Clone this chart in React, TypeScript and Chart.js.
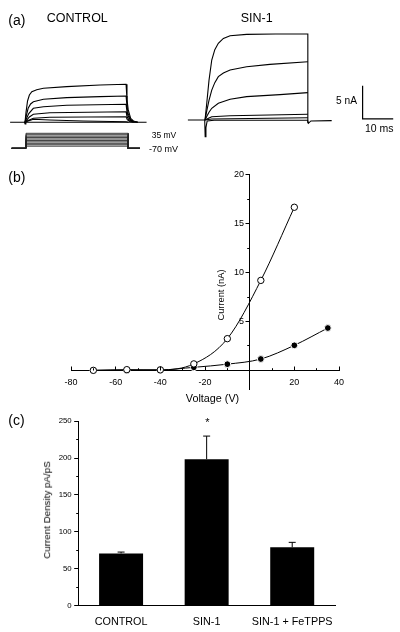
import React, { useEffect, useRef } from "react";
import { Chart, registerables } from "chart.js";

Chart.register(...registerables);

const FONT = "'Liberation Sans', Arial, Helvetica, sans-serif";
Chart.defaults.font.family = FONT;
Chart.defaults.color = "#000";

type Pt = [number, number];

// ---------------- (a) current traces: [time (ms), current (nA)] ----------------
const controlBaseline: Pt[] = [[3.3, 0], [8.0, 0], [8.2, -0.25], [8.45, 0], [47.9, 0]];
const controlTrace1: Pt[] = [[8.17, 0], [8.5, 1.5], [9.0, 3.2], [9.6, 4.1], [10.4, 4.6], [12, 4.9], [14.2, 5.1], [21.8, 5.35], [32.7, 5.6], [41.2, 5.71], [41.5, 3.4], [41.9, 1.9], [42.7, 0.6], [43.6, 0.2], [45, 0]];
const controlTrace2: Pt[] = [[8.17, 0], [8.6, 1.0], [9.2, 2.1], [10, 2.75], [10.9, 3.09], [14.2, 3.45], [21.8, 3.7], [32.7, 3.85], [41.2, 3.95], [41.5, 2.4], [41.9, 1.3], [42.7, 0.4], [43.6, 0.12], [45, 0]];
const controlTrace3: Pt[] = [[8.17, 0], [8.7, 0.6], [9.4, 1.3], [10.9, 2.1], [14.2, 2.34], [21.8, 2.55], [41.2, 2.7], [41.5, 1.6], [41.9, 0.9], [42.7, 0.3], [43.6, 0.08], [45, 0]];
const controlTrace4: Pt[] = [[8.17, 0], [8.8, 0.35], [9.6, 0.8], [10.9, 1.2], [16.3, 1.44], [41.2, 1.59], [41.5, 0.9], [42, 0.45], [42.8, 0.15], [44, 0]];
const controlTrace5: Pt[] = [[8.17, 0], [9, 0.25], [10.9, 0.6], [16.3, 0.75], [41.2, 0.84], [41.6, 0.4], [42.4, 0.12], [43.6, 0]];
const controlTrace6: Pt[] = [[8.17, 0], [9.2, 0.2], [10.9, 0.45], [16.3, 0.35], [27.2, 0.2], [41.2, 0.09], [42, 0]];

const sinBaseline: Pt[] = [[61.4, 0.35], [66.9, 0.35], [67.05, -2.16], [67.3, -0.8], [67.7, 0.2], [70, 0.3], [100.5, 0.3], [100.8, -0.15], [101.6, 0.2], [108.4, 0.25]];
const sinTrace1: Pt[] = [[67.0, 0.35], [67.6, 3.0], [68.3, 6.3], [69.2, 9.35], [70.2, 10.9], [71.35, 11.86], [73.0, 12.6], [75.2, 13.0], [80.6, 13.2], [90, 13.25], [100.6, 13.26], [100.6, -0.15]];
const sinTrace2: Pt[] = [[67.0, 0.35], [67.6, 1.8], [68.3, 3.3], [69.2, 4.83], [70.2, 5.95], [71.35, 6.85], [73, 7.4], [75.2, 7.85], [80.6, 8.35], [88.2, 8.7], [100.6, 9.1]];
const sinTrace3: Pt[] = [[67.0, 0.35], [67.6, 0.9], [68.3, 1.5], [69.2, 2.1], [71.35, 2.85], [75.2, 3.45], [80.6, 3.85], [91.5, 4.15], [100.6, 4.45]];
const sinTrace4: Pt[] = [[67.0, 0.35], [68.3, 0.65], [69.2, 0.84], [75.2, 0.99], [100.6, 1.2]];
const sinTrace5: Pt[] = [[67.0, 0.35], [69.2, 0.5], [100.6, 0.69]];

// voltage protocol (mV / ms)
const holdingPotential = -70;
const stepPotentials = [-55, -45, -35, -25, -15, -5, 5, 15, 25, 35];
const protocolStart = 3.8;
const stepOn = 8.5;
const stepOff = 41.9;
const protocolEnd = 45.75;

// scale bar
const scaleBarTime = 10; // ms
const scaleBarCurrent = 5; // nA
const scaleBarOrigin: Pt = [118.5, 0.5];

// ---------------- (b) I-V relation ----------------
const ivVoltage = [-70, -55, -40, -25, -10, 5, 20, 35];
const ivSin1 = [0.0, 0.07, 0.05, 0.66, 3.24, 9.2, 16.68];
const ivControl = [0.0, 0.02, 0.04, 0.31, 0.63, 1.16, 2.56, 4.33];
const ivXTicks = [-80, -60, -40, -20, 20, 40];
const ivYTicks = [5, 10, 15, 20];

// ---------------- (c) current density ----------------
const groups = ["CONTROL", "SIN-1", "SIN-1 + FeTPPS"];
const densityMean = [70.7, 198.6, 79.0];
const densitySem = [1.8, 31.3, 6.7];
const densityTicks = [0, 50, 100, 150, 200, 250];

// ------------------------------------------------------------------
const align = (p: number) => Math.round(p - 0.5) + 0.5;

type TickSpec = { id: string; major: number; minor: number; isMajor: (v: number) => boolean };

function tickMarks(specs: TickSpec[]) {
  return {
    id: "tickMarks",
    afterDraw(chart: any) {
      const ctx = chart.ctx;
      ctx.save();
      ctx.strokeStyle = "#000";
      ctx.lineWidth = 1;
      for (const s of specs) {
        const sc = chart.scales[s.id];
        for (const t of sc.ticks) {
          const len = s.isMajor(t.value) ? s.major : s.minor;
          const p = align(sc.getPixelForValue(t.value));
          ctx.beginPath();
          if (sc.isHorizontal()) {
            const b = align(sc.top);
            ctx.moveTo(p, b);
            ctx.lineTo(p, b - len);
          } else {
            const b = align(sc.right);
            ctx.moveTo(b, p);
            ctx.lineTo(b - len, p);
          }
          ctx.stroke();
        }
      }
      ctx.restore();
    },
  };
}

// put the axes of panel (b) through the origin (label boxes kept wide enough for the labels)
const crossAxes = {
  id: "crossAxes",
  afterLayout(chart: any) {
    const xs = chart.scales.x;
    const ys = chart.scales.y;
    const px = xs.getPixelForValue(0);
    const py = ys.getPixelForValue(0);
    ys.left = px - 60;
    ys.right = px;
    xs.top = py;
    xs.bottom = py + 30;
  },
};

const traceLine = (pts: Pt[], width = 1.1, color = "#000", yAxisID = "y") => ({
  data: pts.map(([x, y]) => ({ x, y })),
  showLine: true,
  borderColor: color,
  borderWidth: width,
  pointRadius: 0,
  tension: 0,
  fill: false,
  yAxisID,
});

function makeTraces(): any {
  const traces = [
    controlBaseline, controlTrace1, controlTrace2, controlTrace3, controlTrace4, controlTrace5, controlTrace6,
    sinBaseline, sinTrace1, sinTrace2, sinTrace3, sinTrace4, sinTrace5,
  ].map((t) => traceLine(t));
  const protocol = stepPotentials.map((v) =>
    traceLine(
      [
        [protocolStart, holdingPotential],
        [stepOn, holdingPotential],
        [stepOn, v],
        [stepOff, v],
        [stepOff, holdingPotential],
        [protocolEnd, holdingPotential],
      ],
      0.9,
      "#222",
      "yV"
    )
  );
  const bar = traceLine(
    [
      [scaleBarOrigin[0], scaleBarOrigin[1] + scaleBarCurrent],
      [scaleBarOrigin[0], scaleBarOrigin[1]],
      [scaleBarOrigin[0] + scaleBarTime, scaleBarOrigin[1]],
    ],
    1.2
  );
  return {
    type: "scatter",
    data: { datasets: [...traces, ...protocol, bar] },
    options: {
      animation: false,
      responsive: false,
      events: [],
      layout: { padding: 0 },
      plugins: { legend: { display: false }, tooltip: { enabled: false } },
      scales: {
        x: { type: "linear", min: 0, max: 130.72, display: false },
        y: { type: "linear", min: -5.66, max: 18.36, display: false },
        yV: { type: "linear", min: -151.9, max: 968.1, display: false },
      },
    },
  };
}

function makeIV(): any {
  const sinPts = ivSin1.map((c, i) => ({ x: ivVoltage[i], y: c }));
  const ctrlPts = ivControl.map((c, i) => ({ x: ivVoltage[i], y: c }));
  const axisCommon = {
    grid: { drawOnChartArea: false, drawTicks: false },
    border: { color: "#000", width: 1 },
  };
  return {
    type: "scatter",
    data: {
      datasets: [
        {
          data: sinPts,
          showLine: true,
          borderColor: "#000",
          borderWidth: 1,
          pointRadius: 3.2,
          pointBorderWidth: 1,
          pointBackgroundColor: "#fff",
          pointBorderColor: "#000",
          cubicInterpolationMode: "monotone",
          order: 0,
        },
        {
          data: ctrlPts,
          showLine: true,
          borderColor: "#000",
          borderWidth: 1,
          pointRadius: 3.4,
          pointBorderWidth: 1,
          pointBackgroundColor: "#000",
          pointBorderColor: "#fff",
          cubicInterpolationMode: "monotone",
          order: 1,
        },
      ],
    },
    options: {
      animation: false,
      responsive: false,
      events: [],
      layout: { padding: { left: 71, right: 61, top: 14.8, bottom: 20.1 } },
      plugins: { legend: { display: false }, tooltip: { enabled: false } },
      scales: {
        x: {
          type: "linear",
          position: "bottom",
          min: -80,
          max: 40,
          afterFit: (s: any) => { s.height = 0; },
          ...axisCommon,
          ticks: {
            stepSize: 10,
            autoSkip: false,
            maxRotation: 0,
            padding: 6.3,
            color: "#000",
            font: { size: 9, family: FONT },
            callback: (v: any) => (ivXTicks.includes(Number(v)) ? String(v) : ""),
          },
        },
        y: {
          type: "linear",
          position: "left",
          min: -2,
          max: 20,
          afterFit: (s: any) => { s.width = 0; },
          ...axisCommon,
          ticks: {
            stepSize: 2.5,
            includeBounds: false,
            autoSkip: false,
            padding: 5.7,
            color: "#000",
            font: { size: 9, family: FONT },
            callback: (v: any) => (ivYTicks.includes(Number(v)) ? String(v) : ""),
          },
        },
      },
    },
    plugins: [
      crossAxes,
      tickMarks([
        { id: "x", major: 4, minor: 2.3, isMajor: (v) => v === 0 || ivXTicks.includes(v) },
        { id: "y", major: 4, minor: 2.3, isMajor: (v) => v === 0 || ivYTicks.includes(v) },
      ]),
    ],
  };
}

function makeBars(): any {
  const errPts: any[] = [];
  const errRadius: number[] = [];
  groups.forEach((g, i) => {
    errPts.push({ x: g, y: densityMean[i] }, { x: g, y: densityMean[i] + densitySem[i] }, { x: g, y: null });
    errRadius.push(0, 3.5, 0);
  });
  return {
    type: "bar",
    data: {
      labels: groups,
      datasets: [
        {
          type: "line",
          data: errPts,
          borderColor: "#000",
          borderWidth: 1,
          pointStyle: "line",
          pointRadius: errRadius,
          pointBorderColor: "#000",
          pointBorderWidth: 1,
          spanGaps: false,
          fill: false,
          tension: 0,
          order: 0,
        },
        {
          type: "bar",
          data: densityMean,
          backgroundColor: "#000",
          borderWidth: 0,
          barPercentage: 0.514,
          categoryPercentage: 1,
          order: 1,
        },
      ],
    },
    options: {
      animation: false,
      responsive: false,
      events: [],
      layout: { padding: { left: 0, right: 65, top: 8.3, bottom: 0 } },
      plugins: { legend: { display: false }, tooltip: { enabled: false } },
      scales: {
        x: {
          type: "category",
          position: "bottom",
          afterFit: (s: any) => { s.height = 26.5; },
          grid: { drawOnChartArea: false, drawTicks: false },
          border: { color: "#000", width: 1 },
          ticks: { padding: 9.9, maxRotation: 0, autoSkip: false, color: "#000", font: { size: 10.8, family: FONT } },
        },
        y: {
          type: "linear",
          position: "left",
          min: 0,
          max: 250,
          afterFit: (s: any) => { s.width = 78.3; },
          grid: { drawOnChartArea: false, drawTicks: false },
          border: { color: "#000", width: 1 },
          ticks: {
            stepSize: 25,
            autoSkip: false,
            padding: 6.6,
            color: "#000",
            font: { size: 7.8, family: FONT },
            callback: (v: any) => (densityTicks.includes(Number(v)) ? String(v) : ""),
          },
        },
      },
    },
    plugins: [
      tickMarks([{ id: "y", major: 4.3, minor: 2.3, isMajor: (v) => densityTicks.includes(v) }]),
    ],
  };
}

function ChartCanvas({ top, height, make }: { top: number; height: number; make: () => any }) {
  const ref = useRef<HTMLCanvasElement>(null);
  useEffect(() => {
    const chart = new Chart(ref.current as HTMLCanvasElement, make());
    return () => chart.destroy();
  }, []);
  return (
    <canvas
      ref={ref}
      width={400}
      height={height}
      style={{ position: "absolute", left: 0, top, width: 400, height, display: "block" }}
    />
  );
}

function Txt({
  x, y, size, children, anchor = "left", rotate = false,
}: { x: number; y: number; size: number; children: React.ReactNode; anchor?: "left" | "center" | "right"; rotate?: boolean }) {
  const tx = anchor === "left" ? "0" : anchor === "center" ? "-50%" : "-100%";
  return (
    <div
      style={{
        position: "absolute",
        left: x,
        top: y,
        transform: rotate ? "translate(-50%,-50%) rotate(-90deg)" : `translate(${tx},-50%)`,
        fontFamily: FONT,
        fontSize: size,
        lineHeight: 1,
        whiteSpace: "nowrap",
        color: "#000",
      }}
    >
      {children}
    </div>
  );
}

export default function App() {
  return (
    <div style={{ position: "absolute", left: 0, top: 0, width: 400, height: 632, background: "#fff", overflow: "hidden" }}>
      <ChartCanvas top={0} height={160} make={makeTraces} />
      <ChartCanvas top={160} height={250} make={makeIV} />
      <ChartCanvas top={410} height={222} make={makeBars} />

      <Txt x={8.3} y={20} size={14}>(a)</Txt>
      <Txt x={46.7} y={18.3} size={12.5}>CONTROL</Txt>
      <Txt x={240.7} y={18.3} size={12.5}>SIN-1</Txt>
      <Txt x={151.7} y={135} size={8.5}>35 mV</Txt>
      <Txt x={149} y={149.3} size={9}>-70 mV</Txt>
      <Txt x={336} y={100.7} size={10.2}>5 nA</Txt>
      <Txt x={365} y={128.3} size={10.5}>10 ms</Txt>

      <Txt x={8.3} y={176.7} size={14}>(b)</Txt>
      <Txt x={212.5} y={398.3} size={10.8} anchor="center">Voltage (V)</Txt>
      <Txt x={222} y={295} size={9.3} rotate>Current (nA)</Txt>

      <Txt x={8.3} y={420} size={14}>(c)</Txt>
      <Txt x={207.3} y={422} size={11} anchor="center">*</Txt>
      <Txt x={46.7} y={510} size={9.8} rotate>Current Density pA/pS</Txt>
    </div>
  );
}
